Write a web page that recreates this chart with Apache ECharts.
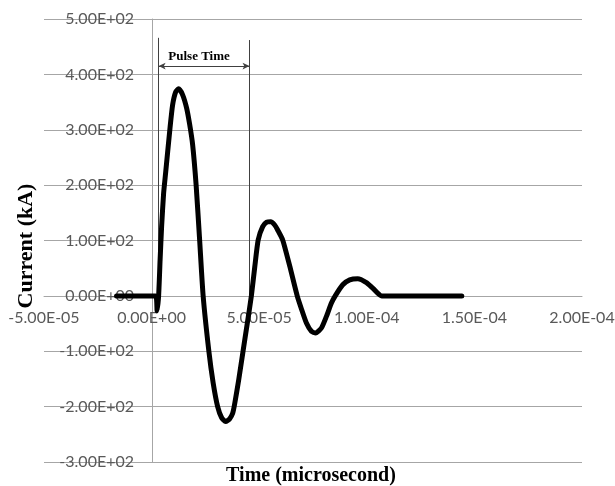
<!DOCTYPE html>
<html>
<head>
<meta charset="utf-8">
<script src="https://cdn.jsdelivr.net/npm/echarts@6/dist/echarts.min.js"></script>
<style>html,body{margin:0;padding:0;background:#fff}#c{width:615px;height:486px}</style>
</head>
<body>
<div id="c"></div>
<script>
// Time (s)
const time = [-1.63e-5, 1.86e-6, 2.56e-6, 3.26e-6, 3.95e-6, 4.65e-6, 5.58e-6, 6.51e-6, 8.60e-6, 9.77e-6,
  1.116e-5, 1.256e-5, 1.442e-5, 1.628e-5, 1.767e-5, 1.907e-5, 2.069e-5, 2.232e-5, 2.395e-5, 2.664e-5,
  2.860e-5, 3.069e-5, 3.255e-5, 3.441e-5, 3.627e-5, 3.767e-5, 3.860e-5, 4.046e-5, 4.245e-5, 4.441e-5,
  4.636e-5, 4.790e-5, 4.952e-5, 5.162e-5, 5.348e-5, 5.534e-5, 5.720e-5, 5.859e-5, 6.092e-5, 6.417e-5,
  6.766e-5, 6.975e-5, 7.194e-5, 7.426e-5, 7.626e-5, 7.891e-5, 8.124e-5, 8.356e-5, 8.533e-5, 8.882e-5,
  9.207e-5, 9.579e-5, 9.984e-5, 1.0277e-4, 1.0695e-4, 1.4415e-4];
// Current (kA)
const current = [0, 0, -27, 0, 65, 125, 185, 222, 305, 345,
  368, 374, 363, 339, 310, 273, 200, 101, 0, -101,
  -157, -200, -220, -227, -222, -212, -195, -152, -101, -51,
  0, 51, 101, 125, 133, 134, 128, 119, 101, 54,
  0, -25, -49, -64, -67, -58, -37, -13, 0, 20,
  29, 31, 24, 14, 0, 0];
// Pulse time annotation (data coordinates)
const pulseStart = 3.26e-6;
const pulseEnd = 4.55e-5;
const pulseTopStart = 466;
const pulseTopEnd = 462;
const pulseArrowY = 415;
const pulseLabel = 'Pulse Time';
const xTitle = 'Time (microsecond)';
const yTitle = 'Current (kA)';

function fmt(v) {
  if (Math.abs(v) < 1e-12) v = 0;
  const s = v.toExponential(2);
  const parts = s.split('e');
  const e = parseInt(parts[1], 10);
  return parts[0] + 'E' + (e < 0 ? '-' : '+') + String(Math.abs(e)).padStart(2, '0');
}

const chart = echarts.init(document.getElementById('c'));
const labelFont = {color: '#595959', fontFamily: 'Lato', fontSize: 16};
chart.setOption({
  animation: false,
  grid: {left: 44, right: 33, top: 19, bottom: 24, containLabel: false, outerBoundsMode: 'none'},
  xAxis: {
    type: 'value', min: -5e-5, max: 2e-4, interval: 5e-5,
    position: 'bottom', offset: -166,
    axisLine: {show: true, onZero: false, lineStyle: {color: '#a6a6a6', width: 1}},
    axisTick: {show: false},
    splitLine: {show: false},
    axisLabel: Object.assign({margin: 14, formatter: fmt, showMinLabel: true, showMaxLabel: true, hideOverlap: false}, labelFont)
  },
  yAxis: {
    type: 'value', min: -300, max: 500, interval: 100,
    position: 'left', offset: -108,
    axisLine: {show: true, onZero: false, lineStyle: {color: '#a6a6a6', width: 1}},
    axisTick: {show: false},
    splitLine: {show: true, lineStyle: {color: '#a6a6a6', width: 1}},
    axisLabel: Object.assign({margin: 18, formatter: fmt, hideOverlap: false}, labelFont)
  },
  graphic: [
    {type: 'text', x: 311, y: 476, style: {text: xTitle, align: 'center', verticalAlign: 'middle', fontFamily: 'Liberation Serif', fontWeight: 'bold', fontSize: 20, fill: '#000'}},
    {type: 'text', x: 26, y: 246, rotation: Math.PI / 2, style: {text: yTitle, align: 'center', verticalAlign: 'middle', fontFamily: 'Liberation Serif', fontWeight: 'bold', fontSize: 22, fill: '#000'}}
  ],
  series: [{
    type: 'line',
    data: time.map((t, i) => [t, current[i]]),
    showSymbol: false,
    smooth: 0.2,
    lineStyle: {color: '#000', width: 5, join: 'round', cap: 'round'},
    z: 5,
    markLine: {
      silent: true,
      symbol: ['none', 'none'],
      animation: false,
      lineStyle: {color: '#404040', width: 1, type: 'solid'},
      label: {show: false},
      data: [
        [{coord: [pulseStart, 0]}, {coord: [pulseStart, pulseTopStart]}],
        [{coord: [pulseEnd, 0]}, {coord: [pulseEnd, pulseTopEnd]}],
        [{coord: [pulseStart, pulseArrowY], symbol: 'arrow', symbolSize: [5, 7]},
         {coord: [pulseEnd, pulseArrowY], symbol: 'arrow', symbolSize: [5, 7],
          label: {show: true, position: 'middle', formatter: pulseLabel, color: '#000', fontFamily: 'Liberation Serif', fontWeight: 'bold', fontSize: 13, distance: 3, offset: [-5, 0]}}]
      ]
    }
  }]
});
</script>
</body>
</html>
